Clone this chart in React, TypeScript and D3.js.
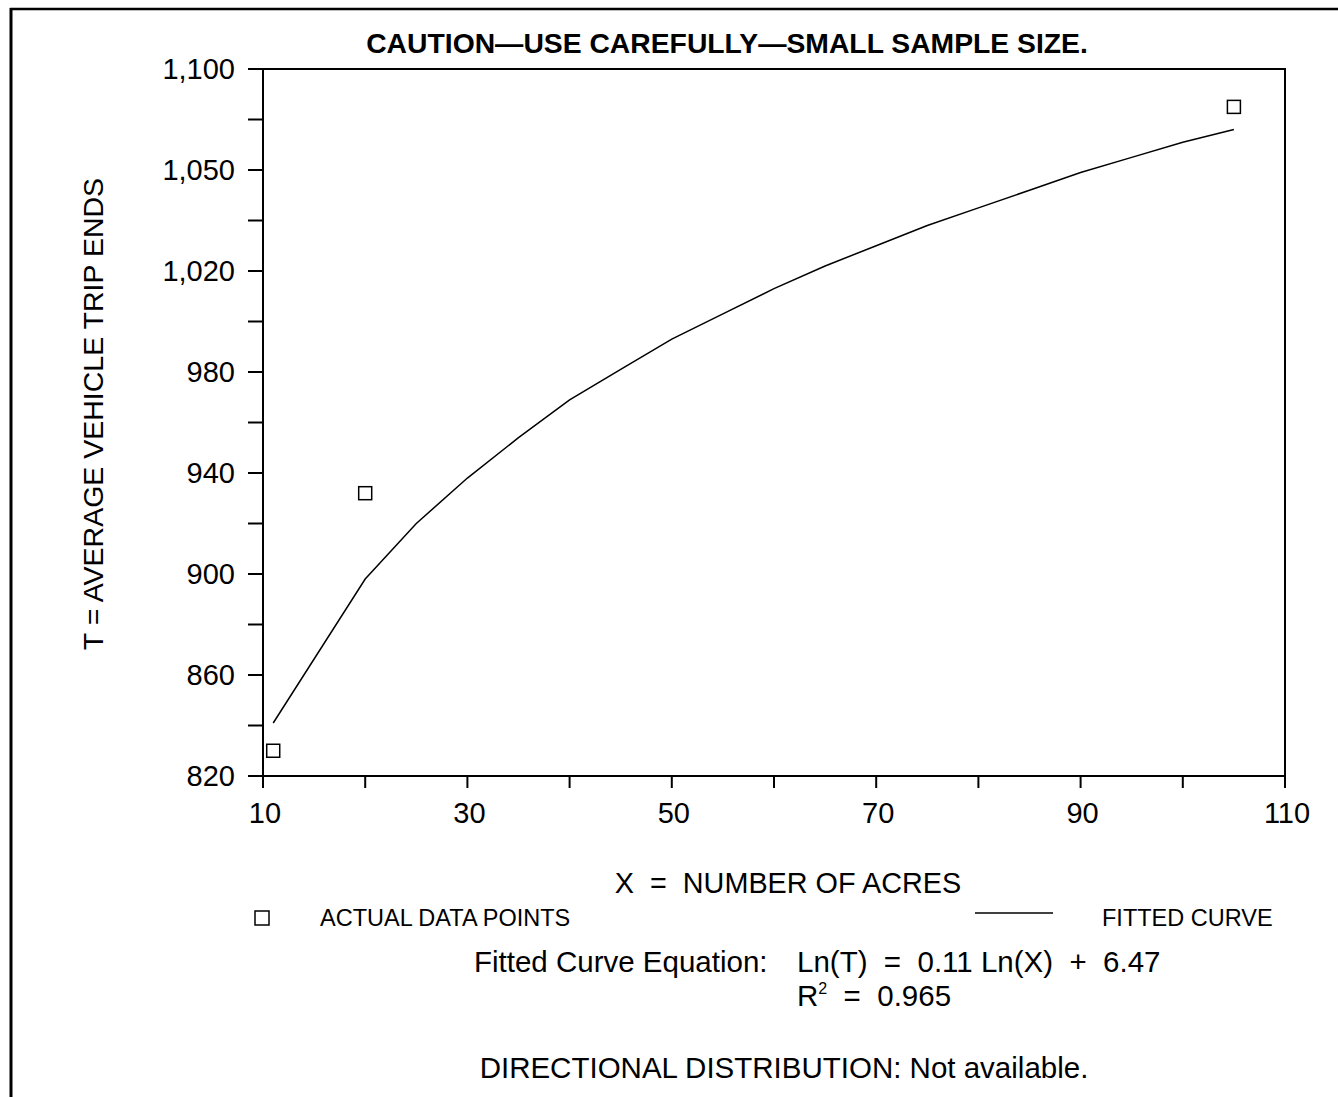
import React from "react";
import * as d3 from "d3";

// Trip-generation plot: average vehicle trip ends vs. number of acres
const pointAcres = [11, 20, 105];
const pointTrips = [830, 932, 1085];

// Fitted curve, Ln(T) = 0.11 Ln(X) + 6.47, as plotted vertices
const curveAcres = [11, 20, 25, 30, 35, 40, 45, 50, 55, 60, 65, 70, 75, 80, 85, 90, 95, 100, 105];
const curveTrips = [841, 898, 920, 938, 954, 969, 981, 993, 1003, 1013, 1022, 1030, 1038, 1045, 1052, 1059, 1065, 1071, 1076];

const yTickValues = [820, 860, 900, 940, 980, 1020, 1060, 1100];
const yTickLabels = ["820", "860", "900", "940", "980", "1,020", "1,050", "1,100"];
const yMinorValues = [840, 880, 920, 960, 1000, 1040, 1080];
const xTickValues = [10, 20, 30, 40, 50, 60, 70, 80, 90, 100, 110];
const xLabelValues = [10, 30, 50, 70, 90, 110];

const W = 1338;
const H = 1097;
const FONT = "'Liberation Sans', Arial, Helvetica, sans-serif";

export default function App() {
  const x = d3.scaleLinear().domain([10, 110]).range([263, 1285]);
  const y = d3.scaleLinear().domain([820, 1100]).range([776, 69]);

  const line = d3
    .line<number>()
    .x((_, i) => x(curveAcres[i]))
    .y((d) => y(d));

  const sq = 13;

  return (
    <svg
      width={W}
      height={H}
      style={{ position: "absolute", left: 0, top: 0, background: "#fff" }}
      fontFamily={FONT}
    >
      <rect x={0} y={0} width={W} height={H} fill="#fff" />
      {/* page border */}
      <line x1={10} y1={9} x2={W} y2={9} stroke="#000" strokeWidth={2.5} />
      <line x1={11} y1={8} x2={11} y2={H} stroke="#000" strokeWidth={3} />

      {/* title */}
      <text x={727} y={53} textAnchor="middle" fontSize={28.3} fontWeight="bold" fill="#000">
        CAUTION—USE CAREFULLY—SMALL SAMPLE SIZE.
      </text>

      {/* plot frame */}
      <rect
        x={x(10)}
        y={y(1100)}
        width={x(110) - x(10)}
        height={y(820) - y(1100)}
        fill="none"
        stroke="#000"
        strokeWidth={2}
      />

      {/* y ticks */}
      {yTickValues.concat(yMinorValues).map((v) => (
        <line key={"yt" + v} x1={x(10) - 15} x2={x(10)} y1={y(v)} y2={y(v)} stroke="#000" strokeWidth={2} />
      ))}
      {yTickValues.map((v, i) => (
        <text
          key={"yl" + v}
          x={235}
          y={y(v)}
          dy="0.36em"
          textAnchor="end"
          fontSize={29}
          fill="#000"
        >
          {yTickLabels[i]}
        </text>
      ))}

      {/* x ticks */}
      {xTickValues.map((v) => (
        <line key={"xt" + v} x1={x(v)} x2={x(v)} y1={y(820)} y2={y(820) + 12} stroke="#000" strokeWidth={2} />
      ))}
      {xLabelValues.map((v) => (
        <text key={"xl" + v} x={x(v) + 2} y={823} textAnchor="middle" fontSize={29} fill="#000">
          {v}
        </text>
      ))}

      {/* axis titles */}
      <text
        transform="translate(103,414) rotate(-90)"
        textAnchor="middle"
        fontSize={28.5}
        fill="#000"
      >
        T = AVERAGE VEHICLE TRIP ENDS
      </text>
      <text x={788} y={893} textAnchor="middle" fontSize={28.8} fill="#000" xmlSpace="preserve">
        {"X  =  NUMBER OF ACRES"}
      </text>

      {/* fitted curve */}
      <path d={line(curveTrips) || ""} fill="none" stroke="#000" strokeWidth={1.5} />

      {/* data points */}
      {pointAcres.map((a, i) => (
        <rect
          key={"p" + i}
          x={x(a) - sq / 2}
          y={y(pointTrips[i]) - sq / 2}
          width={sq}
          height={sq}
          fill="#fff"
          stroke="#000"
          strokeWidth={1.5}
        />
      ))}

      {/* legend */}
      <rect x={255} y={911} width={14} height={14} fill="#fff" stroke="#000" strokeWidth={1.5} />
      <text x={320} y={926} fontSize={23.5} fill="#000">
        ACTUAL DATA POINTS
      </text>
      <line x1={975} x2={1053} y1={913} y2={913} stroke="#000" strokeWidth={1.5} />
      <text x={1102} y={926} fontSize={23.5} fill="#000">
        FITTED CURVE
      </text>

      {/* equation */}
      <text x={474} y={972} fontSize={29.5} fill="#000" xmlSpace="preserve">
        {"Fitted Curve Equation:"}
      </text>
      <text x={797} y={972} fontSize={29.5} fill="#000" xmlSpace="preserve">
        {"Ln(T)  =  0.11 Ln(X)  +  6.47"}
      </text>
      <text x={797} y={1006} fontSize={29.5} fill="#000" xmlSpace="preserve">
        <tspan>R</tspan>
        <tspan fontSize={16} dy={-12}>2</tspan>
        <tspan dy={12}>{"  =  0.965"}</tspan>
      </text>

      <text x={784} y={1078} textAnchor="middle" fontSize={29.5} fill="#000">
        DIRECTIONAL DISTRIBUTION: Not available.
      </text>
    </svg>
  );
}
